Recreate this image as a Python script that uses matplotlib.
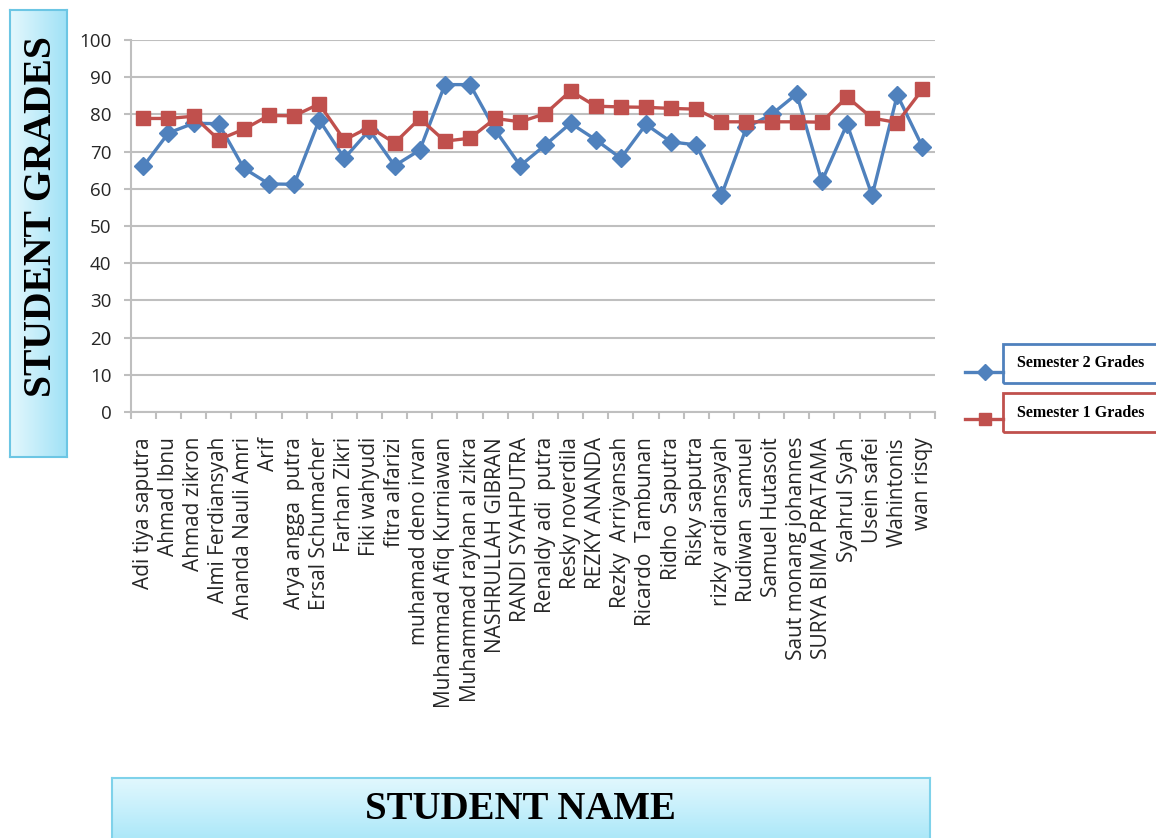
import numpy as np
import matplotlib
matplotlib.use('Agg')
import matplotlib.pyplot as plt
from matplotlib.lines import Line2D
from matplotlib.patches import Rectangle

# data
students = ['Adi tiya saputra', 'Ahmad Ibnu', 'Ahmad zikron', 'Almi Ferdiansyah',
            'Ananda Nauli Amri', 'Arif', 'Arya angga  putra', 'Ersal Schumacher',
            'Farhan Zikri', 'Fiki wahyudi', 'fitra alfarizi', 'muhamad deno irvan',
            'Muhammad Afiq Kurniawan', 'Muhammad rayhan al zikra', 'NASHRULLAH GIBRAN',
            'RANDI SYAHPUTRA', 'Renaldy adi  putra', 'Resky noverdila', 'REZKY ANANDA',
            'Rezky  Arriyansah', 'Ricardo  Tambunan', 'Ridho  Saputra', 'Risky saputra',
            'rizky ardiansayah', 'Rudiwan  samuel', 'Samuel Hutasoit',
            'Saut monang johannes', 'SURYA BIMA PRATAMA', 'Syahrul Syah', 'Usein safei',
            'Wahintonis', 'wan risqy']
sem2 = [66, 75, 77.6, 77.5, 65.5, 61.3, 61.2, 78.5, 68.2, 75.8, 66.2, 70.4,
        88, 88, 75.8, 66.2, 71.8, 77.6, 73.2, 68.2, 77.3, 72.6, 71.8, 58.2,
        76.5, 80, 85.5, 62, 77.4, 58.2, 85.2, 71.3]
sem1 = [78.9, 78.9, 79.5, 73.2, 76, 79.7, 79.6, 82.8, 73.1, 76.6, 72.3, 78.9,
        72.8, 73.6, 78.9, 78, 80.2, 86.3, 82.2, 82, 81.9, 81.6, 81.4, 78,
        78, 78, 78, 77.9, 84.7, 79, 77.8, 86.7]

blue = '#4f81bd'
red = '#c0504d'
grid_c = '#bfbfbf'

plt.rcParams['font.family'] = ['Open Sans', 'DejaVu Sans']

fig = plt.figure(figsize=(11.56, 8.38), dpi=100)
ax = fig.add_axes([0.1131, 0.5084, 0.6957, 0.4439])

x = np.arange(len(students))
ax.plot(x, sem2, color=blue, lw=2.4, marker='D', ms=9.5, zorder=3)
ax.plot(x, sem1, color=red, lw=2.4, marker='s', ms=10.5, zorder=4)

ax.set_ylim(0, 100)
ax.set_xlim(-0.5, len(students) - 0.5)
ax.set_yticks(range(0, 101, 10))
ax.grid(axis='y', color=grid_c, lw=1.5)
ax.set_axisbelow(True)
for s in ['top', 'right']:
    ax.spines[s].set_visible(False)
for s in ['left', 'bottom']:
    ax.spines[s].set_color(grid_c)
    ax.spines[s].set_linewidth(1.5)

ax.set_xticks(x)
ax.set_xticklabels(students, rotation=90, va='top')
ax.set_xticks(np.arange(-0.5, len(students)), minor=True)
ax.tick_params(axis='x', which='major', length=0, pad=18, labelsize=15, labelcolor='#262626')
ax.tick_params(axis='x', which='minor', length=5, width=1.5, color=grid_c, direction='out')
ax.tick_params(axis='y', length=5, width=1.5, color=grid_c, pad=9, labelsize=13.5, labelcolor='#262626')

# y label box with horizontal gradient
bx = fig.add_axes([0.00865, 0.4547, 0.0495, 0.5333])
grad = np.linspace(0, 1, 100).reshape(1, -1)
bx.imshow(grad, aspect='auto', cmap=matplotlib.colors.LinearSegmentedColormap.from_list(
    'cy', ['#e4f8fd', '#9fe1f6']), extent=[0, 1, 0, 1])
bx.set_xticks([]); bx.set_yticks([])
for s in bx.spines.values():
    s.set_color('#6cc6e4'); s.set_linewidth(1.5)
fig.text(0.0358, 0.741, 'STUDENT GRADES', rotation=90, ha='center', va='center',
         family='Liberation Serif', weight='bold', fontsize=28.5)

# x label box with vertical gradient
bx2 = fig.add_axes([0.0969, -0.01, 0.7076, 0.0816])
grad2 = np.linspace(0, 1, 100).reshape(-1, 1)
bx2.imshow(grad2, aspect='auto', cmap=matplotlib.colors.LinearSegmentedColormap.from_list(
    'cy2', ['#a6e6f8', '#e2f8fe']), extent=[0, 1, 0, 1], origin='lower')
bx2.set_xticks([]); bx2.set_yticks([])
for s in bx2.spines.values():
    s.set_color('#7fd2ea'); s.set_linewidth(1.5)
fig.text(0.45, 0.034, 'STUDENT NAME', ha='center', va='center',
         family='Liberation Serif', weight='bold', fontsize=28)

# legend, drawn as separate boxes like the original
legend_rows = [('Semester 2 Grades', blue, 'D', 8, 0.5564, 0.543, 0.5668),
               ('Semester 1 Grades', red, 's', 9, 0.500, 0.4845, 0.5072)]
for label, col, mk, ms, ly, by, ty in legend_rows:
    fig.add_artist(Line2D([0.8348, 0.8677], [ly, ly], transform=fig.transFigure,
                          color=col, lw=2.4))
    fig.add_artist(Line2D([0.8521], [ly], transform=fig.transFigure,
                          color=col, marker=mk, ms=ms, lw=0))
    fig.add_artist(Rectangle((0.8677, by), 0.2, 0.0465, transform=fig.transFigure,
                             fill=False, edgecolor=col, lw=2))
    fig.text(0.8798, ty, label, ha='left', va='center',
             family='Liberation Serif', weight='bold', fontsize=11.5)

fig.savefig('out.png', dpi=100)
